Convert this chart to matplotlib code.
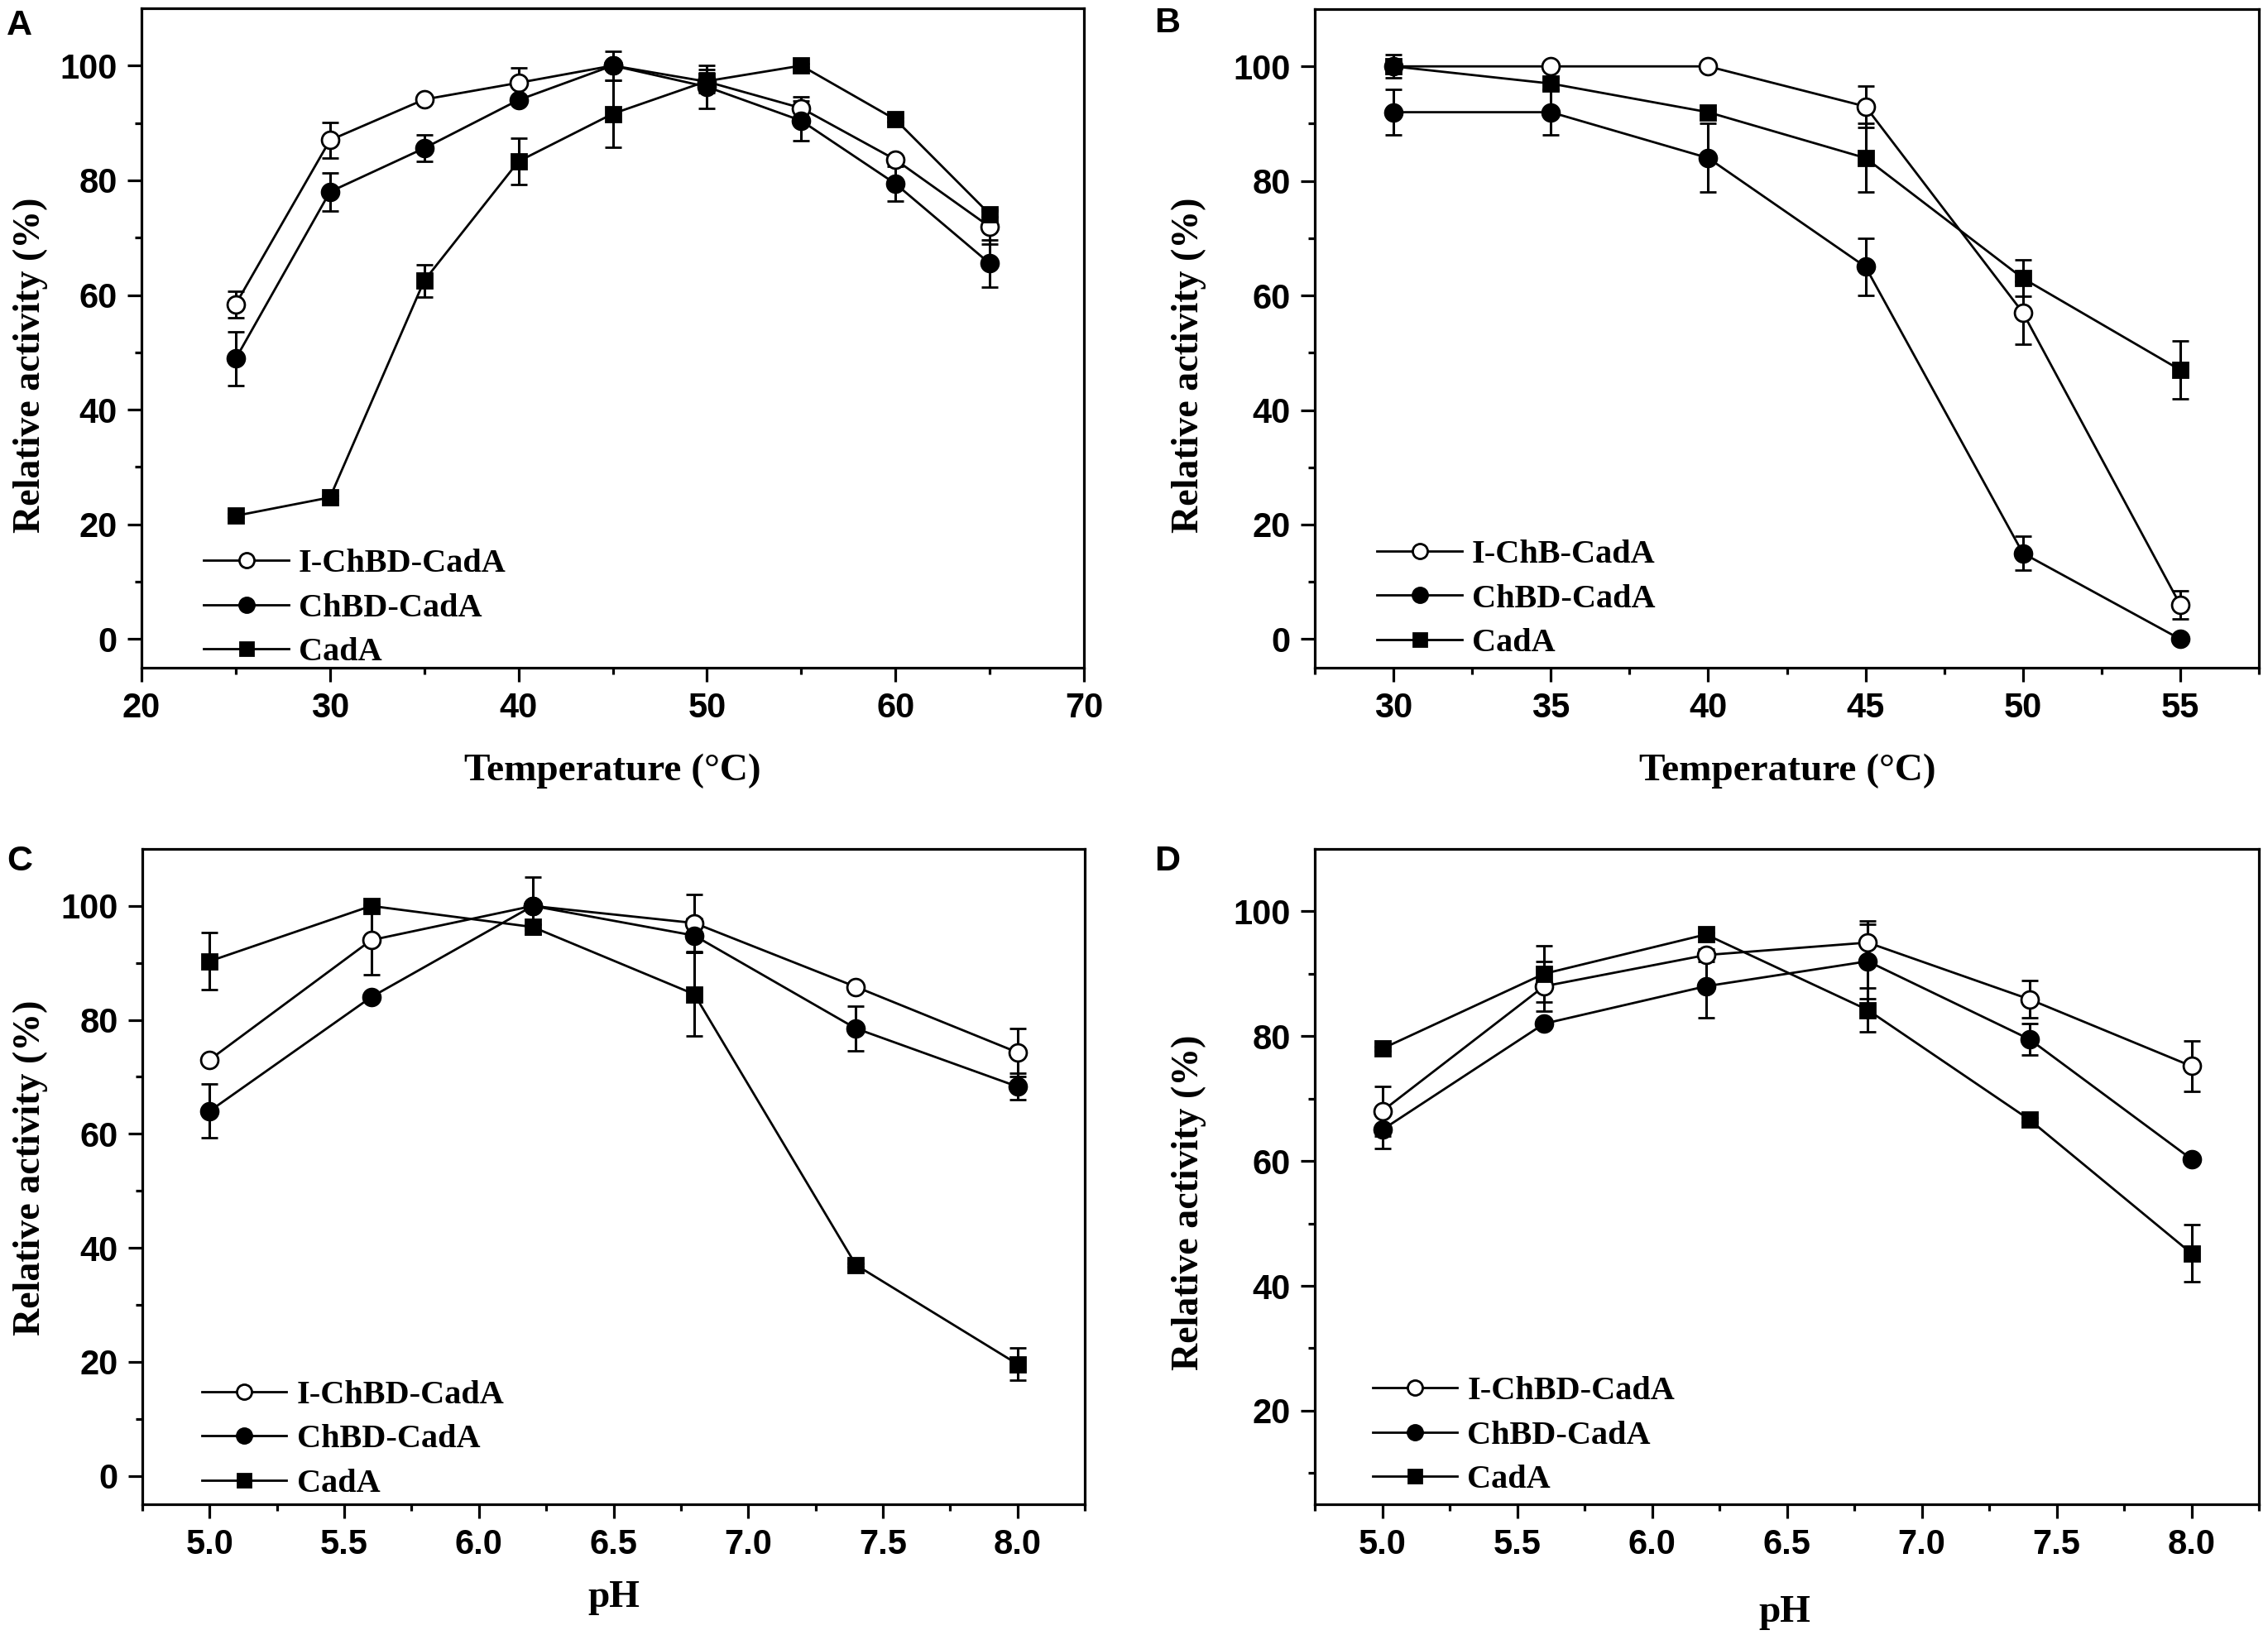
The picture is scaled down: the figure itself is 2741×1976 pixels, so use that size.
import matplotlib
matplotlib.use('Agg')
import matplotlib.pyplot as plt
from matplotlib.lines import Line2D

# Panel A: temperature optimum
temp_a = [25, 30, 35, 40, 45, 50, 55, 60, 65]
a_ichbd = [58.4, 87.0, 94.1, 97.0, 100.0, 97.2, 92.6, 83.6, 71.9]
a_ichbd_err = [2.3, 3.1, 0.5, 2.6, 0.5, 1.5, 2.0, 0.5, 3.0]
a_chbd = [48.9, 78.0, 85.6, 94.0, 100.0, 96.3, 90.4, 79.4, 65.5]
a_chbd_err = [4.7, 3.3, 2.3, 0.5, 2.5, 3.7, 3.5, 3.0, 4.1]
a_cada = [21.5, 24.7, 62.5, 83.3, 91.6, 97.3, 100.0, 90.6, 74.1]
a_cada_err = [0.3, 0.3, 2.8, 4.0, 5.8, 2.0, 0.3, 0.3, 0.5]

# Panel B: thermal stability
temp_b = [30, 35, 40, 45, 50, 55]
b_ichb = [100.0, 100.0, 100.0, 93.0, 57.0, 6.0]
b_ichb_err = [0.5, 0.3, 0.3, 3.6, 5.5, 2.5]
b_chbd = [92.0, 92.0, 84.0, 65.0, 15.0, 0.0]
b_chbd_err = [4.0, 4.0, 6.0, 5.0, 3.0, 0.3]
b_cada = [100.0, 97.0, 92.0, 84.0, 63.0, 47.0]
b_cada_err = [2.0, 1.0, 0.5, 6.0, 3.2, 5.0]

# Panel C: pH optimum
ph = [5.0, 5.6, 6.2, 6.8, 7.4, 8.0]
c_ichbd = [73.0, 94.0, 100.0, 97.0, 85.8, 74.3]
c_ichbd_err = [0.5, 6.0, 0.5, 5.0, 0.5, 4.2]
c_chbd = [64.0, 84.0, 100.0, 94.8, 78.5, 68.3]
c_chbd_err = [4.7, 0.3, 5.0, 3.0, 3.9, 2.3]
c_cada = [90.3, 100.0, 96.3, 84.5, 37.0, 19.6]
c_cada_err = [5.0, 0.3, 0.5, 7.3, 0.3, 2.8]

# Panel D: pH stability
d_ichbd = [68.0, 88.0, 93.0, 95.0, 85.9, 75.2]
d_ichbd_err = [4.0, 4.0, 1.0, 3.5, 3.0, 4.1]
d_chbd = [65.0, 82.0, 88.0, 92.0, 79.5, 60.3]
d_chbd_err = [3.0, 0.3, 5.0, 6.0, 2.5, 0.3]
d_cada = [78.0, 90.0, 96.3, 84.2, 66.6, 45.2]
d_cada_err = [0.3, 4.5, 0.3, 3.5, 0.3, 4.6]

W, H = 2741, 1976
fig = plt.figure(figsize=(W / 100, H / 100), dpi=100)

tick_font = ['Liberation Sans', 'DejaVu Sans']
serif_font = ['Liberation Serif', 'DejaVu Serif']
styles = [('o', 'white', 15), ('o', 'black', 15), ('s', 'black', 13)]


def px_axes(left, top, right, bottom):
    return fig.add_axes([left / W, 1 - bottom / H, (right - left) / W, (bottom - top) / H])


def panel(ax, x, sets):
    for (y, e), (mk, fc, ms) in zip(sets, styles):
        ax.errorbar(x, y, yerr=e, color='black', lw=2.0, elinewidth=2.2, capsize=7, capthick=2.2,
                    marker=mk, ms=ms, mfc=fc, mec='black', mew=2.0)


def style_axes(ax, xlim, ylim, xmajor, xminor, ymajor, yminor, xlabel, xlab_pos, ylab_pos, fmt):
    ax.set_xlim(*xlim)
    ax.set_ylim(*ylim)
    ax.set_xticks(xmajor)
    ax.set_xticks(xminor, minor=True)
    ax.set_yticks(ymajor)
    ax.set_yticks(yminor, minor=True)
    ax.set_xticklabels([fmt.format(v) for v in xmajor])
    ax.set_yticklabels([str(v) for v in ymajor])
    for s in ax.spines.values():
        s.set_linewidth(2.3)
    ax.tick_params(which='major', direction='out', length=12, width=2.3, pad=9, labelsize=30)
    ax.tick_params(which='minor', direction='out', length=6, width=2.3)
    ax.tick_params(top=False, right=False, which='both')
    for lab in ax.get_xticklabels() + ax.get_yticklabels():
        lab.set_family(tick_font)
        lab.set_fontweight('bold')
    ax.set_xlabel(xlabel, family=serif_font, fontweight='bold', fontsize=34)
    ax.set_ylabel('Relative activity (%)', family=serif_font, fontweight='bold', fontsize=33)
    ax.xaxis.set_label_coords(*xlab_pos)
    ax.xaxis.label.set_va('center')
    ax.yaxis.set_label_coords(*ylab_pos)
    ax.yaxis.label.set_va('center')


def add_legend(ax, labels, anchor):
    handles = [Line2D([], [], color='black', lw=2.0, marker=mk, ms=ms - 2, mfc=fc, mec='black', mew=2.0)
               for mk, fc, ms in styles]
    ax.legend(handles, labels, loc='lower left', bbox_to_anchor=anchor, frameon=False,
              prop={'family': serif_font, 'weight': 'bold', 'size': 29},
              handlelength=2.55, handletextpad=0.3, labelspacing=0.40,
              borderpad=0, borderaxespad=0, numpoints=1)


# A
axA = px_axes(171, 10, 1310, 807)
panel(axA, temp_a, [(a_ichbd, a_ichbd_err), (a_chbd, a_chbd_err), (a_cada, a_cada_err)])
style_axes(axA, (20, 70), (-5, 110), [20, 30, 40, 50, 60, 70], [25, 35, 45, 55, 65],
           [0, 20, 40, 60, 80, 100], [10, 30, 50, 70, 90], 'Temperature (\u00b0C)',
           (0.5, -0.157), (-0.118, 0.459), '{:g}')
add_legend(axA, ['I-ChBD-CadA', 'ChBD-CadA', 'CadA'], (0.066, 0.0))

# B
axB = px_axes(1589, 11, 2730, 807)
panel(axB, temp_b, [(b_ichb, b_ichb_err), (b_chbd, b_chbd_err), (b_cada, b_cada_err)])
style_axes(axB, (27.5, 57.5), (-5, 110), [30, 35, 40, 45, 50, 55], [27.5, 32.5, 37.5, 42.5, 47.5, 52.5, 57.5],
           [0, 20, 40, 60, 80, 100], [10, 30, 50, 70, 90], 'Temperature (\u00b0C)',
           (0.501, -0.157), (-0.133, 0.459), '{:g}')
add_legend(axB, ['I-ChB-CadA', 'ChBD-CadA', 'CadA'], (0.066, 0.014))

# C
axC = px_axes(172, 1026, 1311, 1818)
panel(axC, ph, [(c_ichbd, c_ichbd_err), (c_chbd, c_chbd_err), (c_cada, c_cada_err)])
style_axes(axC, (4.75, 8.25), (-5, 110), [5.0, 5.5, 6.0, 6.5, 7.0, 7.5, 8.0],
           [4.75, 5.25, 5.75, 6.25, 6.75, 7.25, 7.75, 8.25],
           [0, 20, 40, 60, 80, 100], [10, 30, 50, 70, 90], 'pH',
           (0.5, -0.143), (-0.1185, 0.513), '{:.1f}')
add_legend(axC, ['I-ChBD-CadA', 'ChBD-CadA', 'CadA'], (0.063, 0.008))

# D
axD = px_axes(1589, 1026, 2730, 1818)
panel(axD, ph, [(d_ichbd, d_ichbd_err), (d_chbd, d_chbd_err), (d_cada, d_cada_err)])
style_axes(axD, (4.75, 8.25), (5, 110), [5.0, 5.5, 6.0, 6.5, 7.0, 7.5, 8.0],
           [4.75, 5.25, 5.75, 6.25, 6.75, 7.25, 7.75, 8.25],
           [20, 40, 60, 80, 100], [10, 30, 50, 70, 90], 'pH',
           (0.498, -0.165), (-0.133, 0.461), '{:.1f}')
add_legend(axD, ['I-ChBD-CadA', 'ChBD-CadA', 'CadA'], (0.061, 0.014))

# panel letters
for letter, px, py in [('A', 8, 11), ('B', 1395, 8), ('C', 8, 1021), ('D', 1395, 1021)]:
    fig.text(px / W, 1 - py / H, letter, family=tick_font, fontweight='bold', fontsize=31,
             ha='left', va='top')

fig.savefig('out.png', dpi=100, facecolor='white')
